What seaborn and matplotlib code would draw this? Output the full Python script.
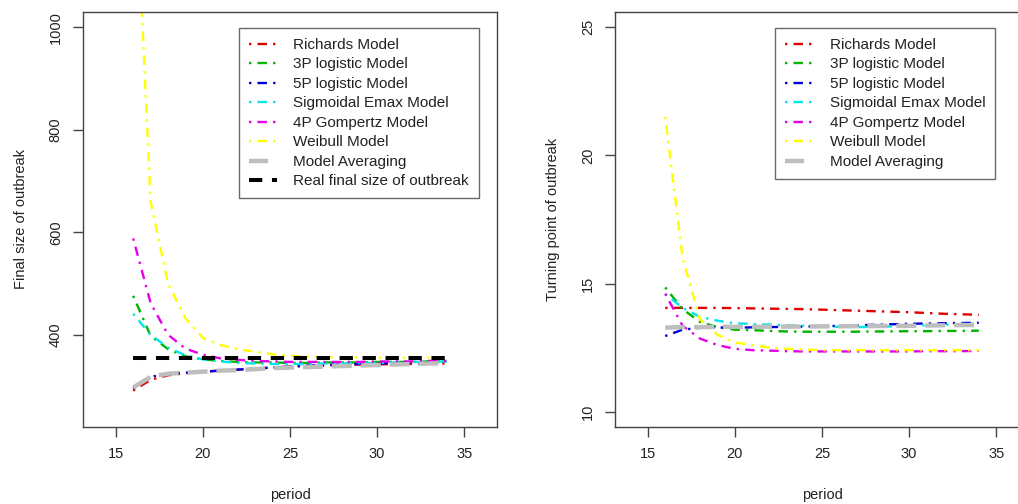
import matplotlib
matplotlib.use("Agg")
import matplotlib.pyplot as plt
import seaborn as sns
import pandas as pd
from matplotlib.lines import Line2D

# ---- data -------------------------------------------------------------
period = list(range(16, 35))

model_names = ["Richards Model", "3P logistic Model", "5P logistic Model",
               "Sigmoidal Emax Model", "4P Gompertz Model", "Weibull Model"]
avg_name = "Model Averaging"
real_name = "Real final size of outbreak"

# final size estimates
richards_fs = [291, 312, 321, 325, 328, 330, 332, 334, 336, 338, 339, 340, 341, 342, 342, 343, 343, 344, 344]
logistic3_fs = [476, 398, 372, 358, 352, 349, 347, 346, 346, 345, 345, 346, 346, 346, 347, 347, 347, 348, 348]
logistic5_fs = [295, 318, 324, 326, 328, 330, 332, 334, 336, 338, 340, 341, 342, 343, 344, 345, 346, 347, 348]
emax_fs = [441, 400, 375, 360, 352, 348, 345, 344, 343, 343, 343, 344, 344, 345, 345, 346, 347, 347, 348]
gompertz4_fs = [588, 462, 400, 373, 361, 354, 351, 349, 348, 347, 347, 347, 347, 347, 348, 348, 348, 349, 349]
weibull_fs = [1400, 660, 500, 432, 394, 380, 372, 367, 362, 359, 357, 356, 356, 356, 355, 355, 355, 355, 355]
average_fs = [297, 318, 324, 326, 328, 330, 331, 333, 335, 336, 337, 338, 339, 340, 341, 342, 343, 344, 345]
real_final_size = 355

# turning point estimates
richards_tp = [14.05, 14.05, 14.05, 14.05, 14.04, 14.03, 14.02, 14.01, 14.0, 13.98, 13.96, 13.94, 13.92, 13.9, 13.88, 13.85, 13.82, 13.8, 13.78]
logistic3_tp = [14.85, 14.0, 13.5, 13.3, 13.2, 13.18, 13.15, 13.13, 13.12, 13.12, 13.12, 13.12, 13.13, 13.13, 13.14, 13.14, 13.15, 13.15, 13.16]
logistic5_tp = [12.95, 13.2, 13.27, 13.28, 13.28, 13.29, 13.3, 13.31, 13.32, 13.33, 13.35, 13.37, 13.39, 13.41, 13.43, 13.44, 13.45, 13.46, 13.47]
emax_tp = [14.6, 14.05, 13.7, 13.55, 13.45, 13.42, 13.4, 13.37, 13.35, 13.33, 13.31, 13.3, 13.31, 13.33, 13.35, 13.37, 13.39, 13.42, 13.45]
gompertz4_tp = [14.6, 13.35, 12.85, 12.6, 12.45, 12.4, 12.38, 12.36, 12.35, 12.35, 12.35, 12.35, 12.35, 12.35, 12.35, 12.36, 12.36, 12.36, 12.37]
weibull_tp = [21.5, 16.0, 13.6, 13.0, 12.7, 12.6, 12.5, 12.45, 12.42, 12.4, 12.4, 12.4, 12.4, 12.4, 12.4, 12.4, 12.4, 12.4, 12.4]
average_tp = [13.28, 13.3, 13.3, 13.31, 13.31, 13.31, 13.32, 13.32, 13.32, 13.33, 13.33, 13.34, 13.34, 13.35, 13.35, 13.36, 13.37, 13.38, 13.38]

x_ticks = [15, 20, 25, 30, 35]
fs_ticks = [400, 600, 800, 1000]
tp_ticks = [10, 15, 20, 25]

# ---- styling ----------------------------------------------------------
model_colors = ["#E00000", "#00B400", "#0000DD", "#00E5E5", "#E600E6", "#FFFF00"]
avg_color = "#BEBEBE"
dotdash = (0, (1, 2.6, 4, 2.6))
model_lw = 1.7
avg_style = (0, (4.5, 2))
avg_legend_style = (0, (4.3, 10))
avg_lw = 3.2
real_style = (0, (3.3, 2.4))
real_lw = 2.9

sns.set_theme(style="ticks")
plt.rcParams["font.family"] = ["Liberation Sans", "DejaVu Sans"]
plt.rcParams["axes.edgecolor"] = "#444444"
plt.rcParams["axes.linewidth"] = 1.0

fig = plt.figure(figsize=(10.18, 5.04), dpi=100)
ax_fs = fig.add_axes([0.08153, 0.15278, 0.40668, 0.82341])
ax_tp = fig.add_axes([0.60413, 0.15278, 0.40668, 0.82341])


def draw_panel(ax, series, average, real=None):
    handles = []
    for name, vals, col in zip(model_names, series, model_colors):
        df = pd.DataFrame({"period": period, "value": vals})
        sns.lineplot(data=df, x="period", y="value", ax=ax, color=col,
                     linewidth=model_lw, linestyle=dotdash, legend=False)
        handles.append(Line2D([], [], color=col, lw=model_lw, linestyle=dotdash, label=name))
    df = pd.DataFrame({"period": period, "value": average})
    sns.lineplot(data=df, x="period", y="value", ax=ax, color=avg_color,
                 linewidth=avg_lw, linestyle=avg_style, legend=False)
    handles.append(Line2D([], [], color=avg_color, lw=avg_lw, linestyle=avg_legend_style,
                          label=avg_name))
    if real is not None:
        df = pd.DataFrame({"period": period, "value": [real] * len(period)})
        sns.lineplot(data=df, x="period", y="value", ax=ax, color="black",
                     linewidth=real_lw, linestyle=real_style, legend=False)
        handles.append(Line2D([], [], color="black", lw=real_lw, linestyle=real_style, label=real_name))
    return handles


h_fs = draw_panel(ax_fs, [richards_fs, logistic3_fs, logistic5_fs, emax_fs, gompertz4_fs, weibull_fs],
                  average_fs, real_final_size)
h_tp = draw_panel(ax_tp, [richards_tp, logistic3_tp, logistic5_tp, emax_tp, gompertz4_tp, weibull_tp],
                  average_tp)


def finish(ax, yticks, ylim, ylabel, handles, legend_x):
    ax.set_xlim(13.12, 36.88)
    ax.set_ylim(*ylim)
    ax.set_xticks(x_ticks)
    ax.set_yticks(yticks)
    ax.set_xticklabels([str(t) for t in x_ticks])
    ax.set_yticklabels([str(t) for t in yticks])
    ax.tick_params(axis="both", length=7, width=1, color="#444444", pad=7.5,
                   labelsize=10.5, labelcolor="#222222")
    ax.tick_params(axis="y", labelrotation=90)
    plt.setp(ax.get_yticklabels(), va="center")
    ax.set_xlabel("period", fontsize=10.5, labelpad=19, color="#222222")
    ax.set_ylabel(ylabel, fontsize=10.5, labelpad=15, color="#222222")
    for s in ax.spines.values():
        s.set_visible(True)
    leg = ax.legend(handles=handles, loc="upper right", bbox_to_anchor=(legend_x, 0.9614),
                    borderaxespad=0, fontsize=11, frameon=True, fancybox=False,
                    handlelength=1.8, handletextpad=1.1, labelspacing=0.36,
                    borderpad=0.65, edgecolor="#444444")
    leg.get_frame().set_linewidth(1.0)
    for t in leg.get_texts():
        t.set_color("#222222")


finish(ax_fs, fs_ticks, (220, 1030), "Final size of outbreak", h_fs, 0.9565)
finish(ax_tp, tp_ticks, (9.4, 25.6), "Turning point of outbreak", h_tp, 0.918)

fig.savefig("out.png", dpi=100, facecolor="white")
